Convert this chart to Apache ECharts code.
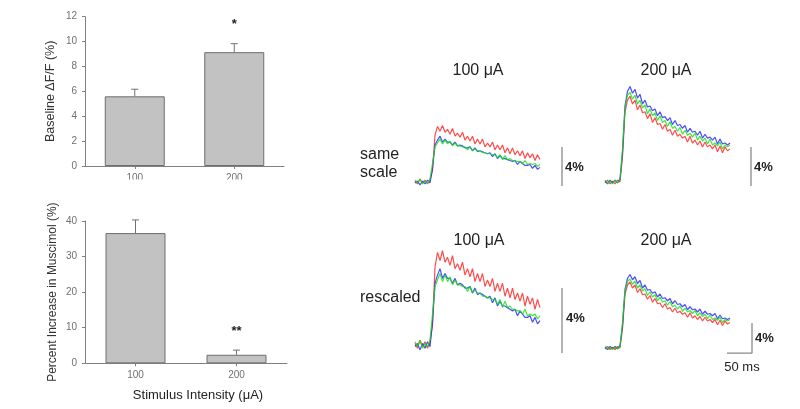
<!DOCTYPE html>
<html>
<head>
<meta charset="utf-8">
<script src="https://cdn.jsdelivr.net/npm/echarts@6/dist/echarts.min.js"></script>
<style>html,body{margin:0;padding:0;background:#fff;}#c{width:800px;height:409px;}</style>
</head>
<body>
<div id="c"></div>
<script>
// ---- bar chart data ----
const categories = ['100', '200'];
const baselineMean = [5.6, 9.15];
const baselineErr = [0.57, 0.68];
const baselineSig = ['', '*'];
const muscimolMean = [36.6, 2.4];
const muscimolErr = [3.7, 1.3];
const muscimolSig = ['', '**'];

// ---- trace data (ΔF/F %, sampled every 5 ms) ----
const times = [0,5,10,15,20,25,30,35,40,45,50,55,60,65,70,75,80,85,90,95,100,105,110,115,120,125,130,135,140,145,150,155,160,165,170,175,180,185,190,195,200,205,210,215,220,225,230,235,240,245,250];
const red100 = [0.1,-0.2,0.3,-0.1,0.2,-0.2,0.2,1.2,4.8,5.7,5.2,5.8,5.1,5.4,4.9,5.5,4.7,5.0,4.6,5.1,4.3,4.7,4.2,4.7,3.9,4.4,3.9,4.4,3.6,4.0,3.6,4.1,3.3,3.8,3.3,3.8,3.0,3.5,2.9,3.5,2.8,3.2,2.7,3.2,2.4,3.0,2.5,2.9,2.2,2.8,2.3];
const blue100 = [-0.1,0.1,-0.3,0.1,-0.2,0.2,-0.1,1.4,3.8,4.3,4.7,4.1,4.4,4.1,4.1,3.8,4.1,3.7,3.8,3.7,3.5,3.5,3.6,3.2,3.5,3.1,3.2,3.1,3.0,2.9,3.0,2.6,2.9,2.4,2.7,2.4,2.4,2.3,2.2,2.1,2.2,1.8,2.1,1.9,1.7,1.7,1.8,1.4,1.7,1.3,1.5];
const green100 = [0.2,-0.1,0.3,-0.2,0.1,-0.1,0.3,1.9,3.6,4.0,4.4,3.9,4.3,3.9,4.2,3.7,4.0,3.7,3.7,3.6,3.6,3.3,3.6,3.2,3.4,3.2,3.2,3.0,3.0,2.9,2.9,2.8,2.8,2.5,2.8,2.3,2.7,2.3,2.4,2.2,2.2,2.1,2.1,1.9,2.2,1.8,1.9,1.8,1.9,1.6,1.8];
const red200 = [-0.1,0.2,-0.2,0.1,-0.2,0.2,0.0,2.6,7.2,8.4,8.8,8.0,8.4,7.4,7.9,7.1,7.2,6.5,7.0,6.1,6.6,5.9,6.0,5.4,5.9,5.2,5.4,4.8,5.3,4.7,4.9,4.5,4.7,4.1,4.7,4.0,4.3,3.8,4.2,3.6,4.1,3.6,3.8,3.4,3.8,3.1,3.7,3.0,3.6,3.2,3.4];
const blue200 = [0.1,-0.2,0.2,-0.1,0.2,-0.1,0.3,3.0,7.8,9.3,9.8,9.1,9.5,8.6,9.0,8.0,8.4,7.7,7.8,7.3,7.5,6.8,7.2,6.6,6.7,6.3,6.6,5.9,6.3,5.8,5.9,5.5,5.8,5.1,5.5,5.1,5.2,4.8,5.2,4.5,4.9,4.5,4.6,4.3,4.6,3.9,4.4,3.9,4.0,3.8,4.0];
const green200 = [0.2,-0.1,0.1,-0.2,0.2,-0.1,0.2,3.4,7.6,8.9,9.2,8.5,8.9,8.0,8.4,7.6,7.9,7.0,7.5,6.8,7.1,6.3,6.8,6.1,6.3,5.7,6.2,5.5,5.7,5.2,5.6,4.9,5.3,4.8,5.0,4.6,5.0,4.3,4.7,4.2,4.5,3.9,4.4,3.8,4.0,3.7,4.1,3.4,3.8,3.6,3.8];

// ---- scale bars (data units: ms, %) ----
const scaleTL = [[294,-0.41],[294,3.59]];
const scaleTR = [[292,-0.41],[292,3.59]];
const scaleBL = [[294,-0.49],[294,3.51]];
const scaleBR = [[244,-0.67],[294,-0.67],[294,3.33]];

const FONT = 'Liberation Sans, Arial, sans-serif';
const pair = arr => times.map((t, i) => [t, arr[i]]);

function errRender(params, api) {
  const c = api.value(0);
  const base = api.coord([c, api.value(1)]);
  const top = api.coord([c, api.value(2)]);
  const st = {stroke: '#707070', lineWidth: 1};
  return {type: 'group', children: [
    {type: 'line', shape: {x1: base[0], y1: base[1], x2: top[0], y2: top[1]}, style: st},
    {type: 'line', shape: {x1: top[0] - 3.5, y1: top[1], x2: top[0] + 3.5, y2: top[1]}, style: st}
  ]};
}

function makeSigRender(labels) {
  return function (params, api) {
    const top = api.coord([api.value(0), api.value(1)]);
    return {type: 'text', x: top[0], y: top[1] - 19,
      style: {text: labels[params.dataIndex], fill: '#222',
        font: 'bold 13px ' + FONT, align: 'center', verticalAlign: 'middle'}};
  };
}

const chart = echarts.init(document.getElementById('c'), null, {renderer: 'canvas'});

const valAxisCommon = {
  type: 'value',
  axisLine: {show: true, lineStyle: {color: '#808080', width: 1}},
  axisTick: {show: true, length: 3, lineStyle: {color: '#808080'}},
  axisLabel: {fontSize: 10, color: '#707070', fontFamily: FONT, margin: 8},
  splitLine: {show: false},
  nameLocation: 'middle',
  nameRotate: 90
};
const catAxisCommon = {
  type: 'category',
  data: categories,
  axisLine: {show: true, lineStyle: {color: '#808080', width: 1}},
  axisTick: {show: true, alignWithLabel: true, length: 3, lineStyle: {color: '#808080'}},
  axisLabel: {fontSize: 10, color: '#707070', fontFamily: FONT, margin: 7}
};
const hiddenX = {type: 'value', min: 0, max: 300, show: false};

function traceSeries(axis, r, b, g, bar) {
  const ls = (col) => ({type: 'line', xAxisIndex: axis, yAxisIndex: axis, showSymbol: false,
    lineStyle: {color: col, width: 1.2, opacity: 0.8}, itemStyle: {color: col}, silent: true, z: 3});
  return [
    Object.assign(ls('#ff2020'), {data: pair(r)}),
    Object.assign(ls('#2020ff'), {data: pair(b)}),
    Object.assign(ls('#10e010'), {data: pair(g)}),
    {type: 'line', xAxisIndex: axis, yAxisIndex: axis, showSymbol: false, data: bar,
      lineStyle: {color: '#8a8a8a', width: 1.3}, silent: true, z: 2}
  ];
}

const option = {
  animation: false,
  backgroundColor: '#fff',
  grid: [
    {left: 85, top: 16.7, width: 199, height: 149.3, outerBoundsMode: 'none'},
    {left: 85, top: 221, width: 202, height: 142.3, outerBoundsMode: 'none'},
    {left: 415, top: 84.5, width: 150, height: 107.25, outerBoundsMode: 'none'},
    {left: 605, top: 84.5, width: 150, height: 107.25, outerBoundsMode: 'none'},
    {left: 415, top: 239.375, width: 150, height: 121.875, outerBoundsMode: 'none'},
    {left: 605, top: 273, width: 150, height: 82.5, outerBoundsMode: 'none'}
  ],
  xAxis: [
    Object.assign({gridIndex: 0}, catAxisCommon),
    Object.assign({gridIndex: 1}, catAxisCommon),
    Object.assign({gridIndex: 2}, hiddenX),
    Object.assign({gridIndex: 3}, hiddenX),
    Object.assign({gridIndex: 4}, hiddenX),
    Object.assign({gridIndex: 5}, hiddenX)
  ],
  yAxis: [
    Object.assign({}, valAxisCommon, {gridIndex: 0, min: 0, max: 12, interval: 2,
      name: 'Baseline ΔF/F (%)', nameGap: 28,
      nameTextStyle: {color: '#333', fontFamily: FONT, fontSize: 12.5}}),
    Object.assign({}, valAxisCommon, {gridIndex: 1, min: 0, max: 40, interval: 10,
      name: 'Percent Increase in Muscimol (%)', nameGap: 26,
      nameTextStyle: {color: '#333', fontFamily: FONT, fontSize: 12}}),
    {gridIndex: 2, type: 'value', min: -1, max: 10, show: false},
    {gridIndex: 3, type: 'value', min: -1, max: 10, show: false},
    {gridIndex: 4, type: 'value', min: -1, max: 6.5, show: false},
    {gridIndex: 5, type: 'value', min: -1, max: 10, show: false}
  ],
  series: [
    {type: 'bar', xAxisIndex: 0, yAxisIndex: 0, data: baselineMean, barWidth: 60,
      itemStyle: {color: '#c2c2c2', borderColor: '#6e6e6e', borderWidth: 1}, silent: true},
    {type: 'custom', xAxisIndex: 0, yAxisIndex: 0, renderItem: errRender, z: 4,
      data: categories.map((c, i) => [i, baselineMean[i], baselineMean[i] + baselineErr[i]])},
    {type: 'custom', xAxisIndex: 0, yAxisIndex: 0, z: 4, renderItem: makeSigRender(baselineSig),
      data: categories.map((c, i) => [i, baselineMean[i] + baselineErr[i]])},
    {type: 'bar', xAxisIndex: 1, yAxisIndex: 1, data: muscimolMean, barWidth: 60,
      itemStyle: {color: '#c2c2c2', borderColor: '#6e6e6e', borderWidth: 1}, silent: true},
    {type: 'custom', xAxisIndex: 1, yAxisIndex: 1, renderItem: errRender, z: 4,
      data: categories.map((c, i) => [i, muscimolMean[i], muscimolMean[i] + muscimolErr[i]])},
    {type: 'custom', xAxisIndex: 1, yAxisIndex: 1, z: 4, renderItem: makeSigRender(muscimolSig),
      data: categories.map((c, i) => [i, muscimolMean[i] + muscimolErr[i]])}
  ].concat(
    traceSeries(2, red100, blue100, green100, scaleTL),
    traceSeries(3, red200, blue200, green200, scaleTR),
    traceSeries(4, red100, blue100, green100, scaleBL),
    traceSeries(5, red200, blue200, green200, scaleBR)
  ),
  graphic: [
    {type: 'rect', z: 100, shape: {x: 100, y: 179.5, width: 185, height: 14}, style: {fill: '#fff'}},
    {type: 'text', z: 100, x: 198, y: 395, style: {text: 'Stimulus Intensity (μA)', font: '13px ' + FONT, fill: '#222', align: 'center', verticalAlign: 'middle'}},
    {type: 'text', z: 100, x: 478, y: 71, style: {text: '100 μA', font: '16px ' + FONT, fill: '#222', align: 'center', verticalAlign: 'middle'}},
    {type: 'text', z: 100, x: 666, y: 71, style: {text: '200 μA', font: '16px ' + FONT, fill: '#222', align: 'center', verticalAlign: 'middle'}},
    {type: 'text', z: 100, x: 479, y: 241, style: {text: '100 μA', font: '16px ' + FONT, fill: '#222', align: 'center', verticalAlign: 'middle'}},
    {type: 'text', z: 100, x: 666, y: 241, style: {text: '200 μA', font: '16px ' + FONT, fill: '#222', align: 'center', verticalAlign: 'middle'}},
    {type: 'text', z: 100, x: 360, y: 154.5, style: {text: 'same', font: '16px ' + FONT, fill: '#222', align: 'left', verticalAlign: 'middle'}},
    {type: 'text', z: 100, x: 360, y: 172.7, style: {text: 'scale', font: '16px ' + FONT, fill: '#222', align: 'left', verticalAlign: 'middle'}},
    {type: 'text', z: 100, x: 360, y: 297.7, style: {text: 'rescaled', font: '16px ' + FONT, fill: '#222', align: 'left', verticalAlign: 'middle'}},
    {type: 'text', z: 100, x: 565, y: 167, style: {text: '4%', font: 'bold 13px ' + FONT, fill: '#222', align: 'left', verticalAlign: 'middle'}},
    {type: 'text', z: 100, x: 754, y: 167, style: {text: '4%', font: 'bold 13px ' + FONT, fill: '#222', align: 'left', verticalAlign: 'middle'}},
    {type: 'text', z: 100, x: 566, y: 318.7, style: {text: '4%', font: 'bold 13px ' + FONT, fill: '#222', align: 'left', verticalAlign: 'middle'}},
    {type: 'text', z: 100, x: 755, y: 338, style: {text: '4%', font: 'bold 13px ' + FONT, fill: '#222', align: 'left', verticalAlign: 'middle'}},
    {type: 'text', z: 100, x: 742, y: 367, style: {text: '50 ms', font: '13px ' + FONT, fill: '#222', align: 'center', verticalAlign: 'middle'}}
  ]
};
chart.setOption(option);
</script>
</body>
</html>
